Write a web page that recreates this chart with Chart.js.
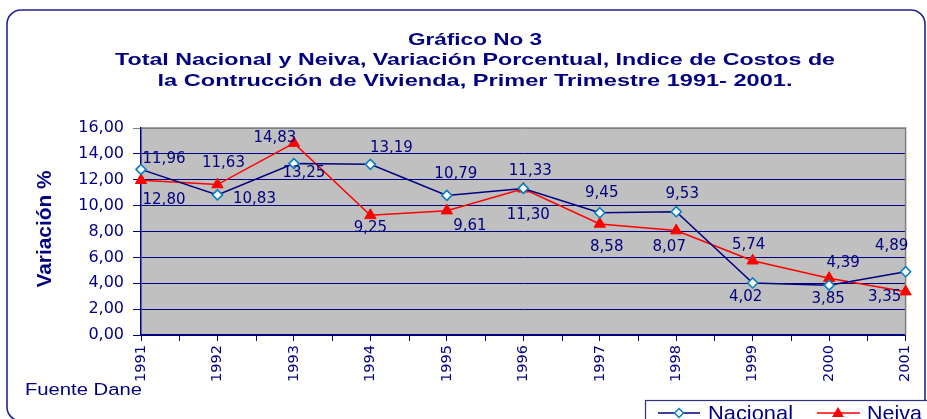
<!DOCTYPE html>
<html>
<head>
<meta charset="utf-8">
<script src="https://cdn.jsdelivr.net/npm/chart.js@4"></script>
<style>
  html, body { margin: 0; padding: 0; background: #ffffff; }
  #c { display: block; }
</style>
</head>
<body>
<canvas id="c" width="927" height="419"></canvas>
<script>
// ---- DATA ----
const categories = ['1991','1992','1993','1994','1995','1996','1997','1998','1999','2000','2001'];
const nacional = [12.80, 10.83, 13.25, 13.19, 10.79, 11.33, 9.45, 9.53, 4.02, 3.85, 4.89];
const neiva    = [11.96, 11.63, 14.83, 9.25, 9.61, 11.30, 8.58, 8.07, 5.74, 4.39, 3.35];
const yMin = 0, yMax = 16, yStep = 2;
const titleLines = [
  'Gráfico No 3',
  'Total Nacional y Neiva, Variación Porcentual, Indice de Costos de',
  'la Contrucción de Vivienda, Primer Trimestre 1991- 2001.'
];
const yAxisTitle = 'Variación %';
const sourceNote = 'Fuente Dane';
const seriesNames = ['Nacional', 'Neiva'];

// ---- STYLE (label placement offsets, in px, relative to each point) ----
const labelOffsets = [
  [[23,31],[37,4],[10,10],[21,-16],[9,-21],[7,-17],[2,-20],[6,-18],[-7,14],[-1,14],[-14,-26]],
  [[23,-21],[6,-21],[-19,-5],[0,13],[23,15],[5,26],[7,23],[-7,17],[-4,-16],[14,-15],[-21,5]]
];
const NAVY = '#000080';
const fmt = v => v.toFixed(2).replace('.', ',');

function fitText(ctx, text, x, y, width, align) {
  ctx.save();
  const w = ctx.measureText(text).width;
  const s = width / w;
  ctx.translate(x, y);
  ctx.scale(s, 1);
  ctx.textAlign = align || 'left';
  ctx.fillText(text, 0, 0);
  ctx.restore();
}

const decorPlugin = {
  id: 'decor',
  beforeDraw(chart) {
    const ctx = chart.ctx, a = chart.chartArea;
    ctx.save();
    ctx.fillStyle = '#ffffff';
    ctx.fillRect(0, 0, chart.width, chart.height);
    // outer rounded frame
    ctx.strokeStyle = '#24248c';
    ctx.lineWidth = 1.6;
    ctx.beginPath();
    ctx.roundRect(7, 10, 918, 411, 14);
    ctx.stroke();
    // plot background
    ctx.fillStyle = '#c0c0c0';
    ctx.fillRect(a.left, a.top, a.right - a.left, a.bottom - a.top);
    ctx.restore();
  },
  beforeDatasetsDraw(chart) {
    const ctx = chart.ctx, a = chart.chartArea;
    const xs = chart.scales.x;
    ctx.save();
    ctx.strokeStyle = '#808080';
    ctx.lineWidth = 1.5;
    ctx.beginPath();
    ctx.moveTo(a.left, a.top); ctx.lineTo(a.right, a.top); ctx.lineTo(a.right, a.bottom);
    ctx.stroke();
    // minor ticks between categories
    ctx.strokeStyle = NAVY;
    ctx.lineWidth = 1;
    for (let i = 0; i < categories.length - 1; i++) {
      const x = Math.round((xs.getPixelForValue(i) + xs.getPixelForValue(i + 1)) / 2) + 0.5;
      ctx.beginPath(); ctx.moveTo(x, a.bottom); ctx.lineTo(x, a.bottom + 6); ctx.stroke();
    }
    ctx.restore();
  },
  afterDraw(chart) {
    const ctx = chart.ctx;
    ctx.save();
    ctx.fillStyle = NAVY;
    // data labels
    ctx.font = '15px "DejaVu Sans"';
    ctx.textAlign = 'center';
    ctx.textBaseline = 'middle';
    chart.data.datasets.forEach((ds, di) => {
      const meta = chart.getDatasetMeta(di);
      meta.data.forEach((pt, i) => {
        const off = labelOffsets[di][i];
        ctx.fillText(fmt(ds.data[i]), pt.x + off[0], pt.y + off[1]);
      });
    });
    // title
    ctx.textBaseline = 'alphabetic';
    ctx.font = 'bold 17px "Liberation Sans"';
    const tW = [134, 720, 635];
    const tY = [45, 65, 86];
    titleLines.forEach((t, i) => fitText(ctx, t, 475, tY[i], tW[i], 'center'));
    // y axis title
    ctx.save();
    ctx.translate(51, 229);
    ctx.rotate(-Math.PI / 2);
    ctx.font = 'bold 20px "Liberation Sans"';
    fitText(ctx, yAxisTitle, 0, 0, 117, 'center');
    ctx.restore();
    // source
    ctx.font = '16px "Liberation Sans"';
    fitText(ctx, sourceNote, 25, 395, 117, 'left');
    // legend
    ctx.fillStyle = '#ffffff';
    ctx.fillRect(645, 400, 300, 30);
    ctx.strokeStyle = '#30308a';
    ctx.lineWidth = 1.2;
    ctx.strokeRect(645.5, 400.5, 300, 30);
    const ds = chart.data.datasets;
    const ly = 413;
    // Nacional
    ctx.strokeStyle = ds[0].borderColor; ctx.lineWidth = 1.5;
    ctx.beginPath(); ctx.moveTo(658, ly); ctx.lineTo(700, ly); ctx.stroke();
    ctx.fillStyle = '#ffffff'; ctx.strokeStyle = ds[0].pointBorderColor; ctx.lineWidth = 1.5;
    ctx.beginPath(); ctx.moveTo(679, ly - 4.5); ctx.lineTo(683.5, ly); ctx.lineTo(679, ly + 4.5); ctx.lineTo(674.5, ly); ctx.closePath();
    ctx.fill(); ctx.stroke();
    // Neiva
    ctx.strokeStyle = ds[1].borderColor; ctx.lineWidth = 1.5;
    ctx.beginPath(); ctx.moveTo(817, ly); ctx.lineTo(860, ly); ctx.stroke();
    ctx.fillStyle = ds[1].pointBackgroundColor;
    ctx.beginPath(); ctx.moveTo(838, ly - 6); ctx.lineTo(844, ly + 4); ctx.lineTo(832, ly + 4); ctx.closePath(); ctx.fill();
    ctx.fillStyle = NAVY;
    ctx.font = '21px "Liberation Sans"';
    fitText(ctx, ds[0].label, 708, 420, 85, 'left');
    fitText(ctx, ds[1].label, 867, 420, 55, 'left');
    ctx.restore();
  }
};

new Chart(document.getElementById('c'), {
  type: 'line',
  data: {
    labels: categories,
    datasets: [
      {
        label: seriesNames[0],
        data: nacional,
        borderColor: NAVY,
        borderWidth: 1.5,
        pointStyle: 'rectRot',
        pointRadius: 5,
        pointBackgroundColor: '#ffffff',
        pointBorderColor: '#0a7fc0',
        pointBorderWidth: 1.6,
        tension: 0
      },
      {
        label: seriesNames[1],
        data: neiva,
        borderColor: '#ff0000',
        borderWidth: 1.5,
        pointStyle: 'triangle',
        pointRadius: 6.5,
        pointBackgroundColor: '#ff0000',
        pointBorderColor: '#ff0000',
        pointBorderWidth: 1,
        tension: 0
      }
    ]
  },
  options: {
    responsive: false,
    animation: false,
    layout: { padding: { top: 128, right: 20, left: 0, bottom: 0 } },
    plugins: { legend: { display: false }, title: { display: false }, tooltip: { enabled: false } },
    scales: {
      x: {
        type: 'category',
        offset: false,
        afterFit(s) { s.height = 84; },
        grid: { drawOnChartArea: false, drawTicks: true, tickLength: 6, color: NAVY },
        border: { color: NAVY, width: 1.5 },
        ticks: {
          color: NAVY, autoSkip: false, minRotation: 90, maxRotation: 90, padding: 4,
          font: { family: 'DejaVu Sans', size: 14.5 }
        }
      },
      y: {
        min: yMin, max: yMax,
        afterFit(s) { s.width = 141; },
        grid: {
          color: ctx => (ctx.tick && ctx.tick.value === yMax) ? '#808080' : NAVY,
          lineWidth: 1, tickLength: 8, drawTicks: true
        },
        border: { color: NAVY, width: 1.5 },
        ticks: {
          stepSize: yStep, color: NAVY, padding: 9,
          font: { family: 'DejaVu Sans', size: 16 },
          callback: v => fmt(v)
        }
      }
    }
  },
  plugins: [decorPlugin]
});
</script>
</body>
</html>
